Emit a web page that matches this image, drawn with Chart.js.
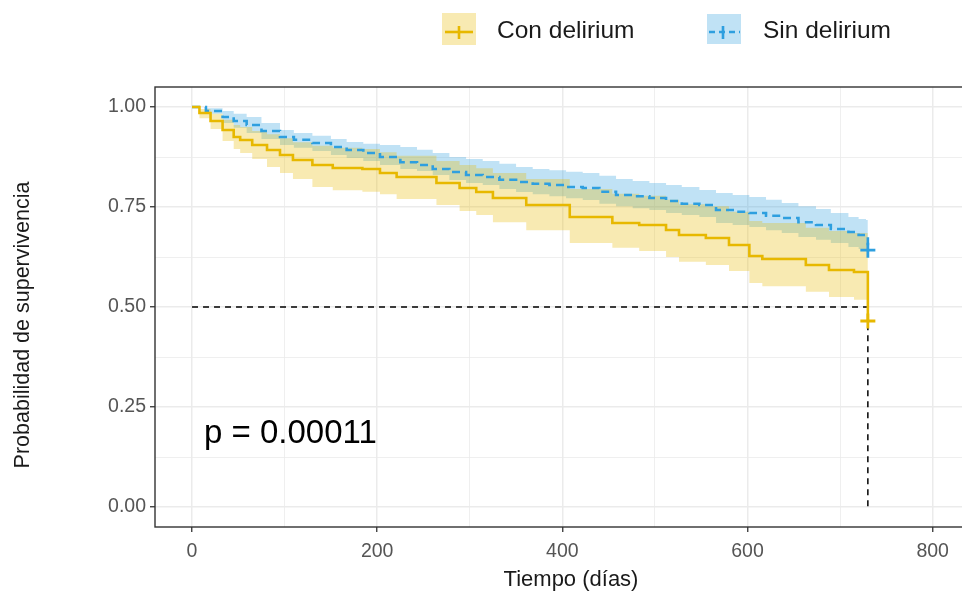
<!DOCTYPE html>
<html>
<head>
<meta charset="utf-8">
<script src="https://cdn.jsdelivr.net/npm/chart.js@4.4.1/dist/chart.umd.min.js"></script>
<style>
  html, body { margin: 0; padding: 0; background: #fff; overflow: hidden; }
  #wrap { width: 962px; height: 594px; overflow: hidden; }
</style>
</head>
<body>
<div id="wrap"><canvas id="km" width="980" height="594"></canvas></div>
<script>
// Con delirium (gold) - Kaplan-Meier steps
const conTime  = [0, 8, 20, 33, 45, 52, 65, 81, 95, 109, 130, 152, 184, 203, 221, 264, 289, 307, 325, 361, 408, 454, 483, 512, 526, 555, 580, 602, 616, 663, 688, 715, 730];
const conSurv  = [1, .985, .965, .9425, .925, .9175, .905, .8925, .88, .8675, .855, .8475, .845, .835, .825, .81, .7975, .7875, .7725, .755, .725, .71, .705, .6925, .68, .6725, .655, .6275, .62, .605, .5925, .5875, .465];
const conLower = [1, .972, .945, .915, .895, .885, .87, .85, .835, .82, .80, .792, .788, .782, .77, .755, .74, .73, .712, .692, .66, .648, .64, .625, .613, .605, .59, .56, .552, .538, .525, .518, .518];
const conUpper = [1, .995, .983, .968, .955, .95, .94, .932, .922, .912, .903, .898, .895, .887, .878, .865, .855, .847, .835, .82, .795, .783, .778, .768, .757, .752, .738, .715, .71, .698, .69, .685, .685];

// Sin delirium (blue)
const sinTime  = [0, 15, 33, 45, 59, 75, 95, 110, 130, 150, 167, 185, 203, 225, 243, 260, 278, 296, 314, 332, 350, 368, 386, 404, 422, 440, 458, 476, 494, 512, 529, 548, 566, 584, 602, 620, 637, 655, 674, 690, 709, 720, 728, 730];
const sinSurv  = [1, .99, .975, .965, .955, .94, .925, .918, .91, .9, .8925, .885, .875, .862, .855, .845, .8375, .83, .825, .818, .8125, .808, .805, .8, .7975, .788, .78, .777, .7725, .765, .758, .755, .7425, .738, .735, .728, .7225, .712, .705, .695, .6875, .68, .675, .642];
const sinLower = [1, .983, .96, .948, .935, .92, .905, .898, .89, .88, .8725, .865, .855, .845, .84, .83, .8175, .81, .805, .795, .7875, .782, .777, .772, .7675, .758, .752, .747, .7425, .735, .73, .725, .71, .705, .70, .692, .685, .675, .668, .66, .65, .645, .6425, .6425];
const sinUpper = [1, .997, .99, .983, .975, .96, .9425, .935, .928, .92, .9125, .908, .905, .9, .893, .885, .875, .87, .865, .858, .85, .845, .842, .838, .835, .828, .82, .815, .81, .805, .80, .7925, .785, .78, .775, .768, .76, .752, .745, .735, .725, .72, .7175, .7175];

// median survival guide
const medianX = [0, 730, 730];
const medianY = [0.5, 0.5, 0];

const xTicks = [0, 100, 200, 300, 400, 500, 600, 700, 800];
const yTicks = [0, 0.125, 0.25, 0.375, 0.5, 0.625, 0.75, 0.875, 1];

const seriesNames = ["Con delirium", "Sin delirium"];
const pText = "p = 0.00011";

const GOLD = "#E7B800";
const BLUE = "#2E9FDF";
const GOLD_BAND = "rgba(231,184,0,0.3)";
const BLUE_BAND = "rgba(46,159,223,0.3)";
const FONT = "'Liberation Sans', Arial, sans-serif";

function pts(xs, ys) {
  return xs.map((x, i) => ({ x: x, y: ys[i] }));
}

function isMajor(v, step) {
  const r = v / step;
  return Math.abs(r - Math.round(r)) < 1e-6;
}

function band(xs, ys, color) {
  return {
    data: pts(xs, ys), stepped: "before", borderWidth: 0, pointRadius: 0,
    backgroundColor: color, fill: false, order: 10
  };
}

function curve(xs, ys, color, dash) {
  return {
    data: pts(xs, ys), stepped: "before", borderColor: color, borderWidth: 2.6,
    borderDash: dash, fill: false, order: 1,
    pointStyle: "cross",
    pointRadius: (c) => (c.dataIndex === xs.length - 1 ? 7.5 : 0),
    pointBorderColor: color, pointBorderWidth: 2.8, pointBackgroundColor: color
  };
}

const gold = band(conTime, conUpper, GOLD_BAND); gold.fill = "+1";
const blue = band(sinTime, sinUpper, BLUE_BAND); blue.fill = "+1";

// panel border, legend, p value and axis titles
const decor = {
  id: "decor",
  afterDraw(chart) {
    const { ctx, chartArea: a } = chart;
    ctx.save();
    ctx.strokeStyle = "#333333";
    ctx.lineWidth = 1.4;
    ctx.strokeRect(a.left, a.top, a.right - a.left, a.bottom - a.top);

    // legend keys
    ctx.fillStyle = GOLD_BAND;
    ctx.fillRect(442, 13, 34, 32);
    ctx.strokeStyle = GOLD; ctx.lineWidth = 2.6;
    ctx.beginPath(); ctx.moveTo(445, 32); ctx.lineTo(473, 32); ctx.stroke();
    ctx.beginPath(); ctx.moveTo(459, 26); ctx.lineTo(459, 39); ctx.stroke();

    ctx.fillStyle = BLUE_BAND;
    ctx.fillRect(707, 14, 34, 30);
    ctx.strokeStyle = BLUE;
    ctx.setLineDash([6, 4]);
    ctx.beginPath(); ctx.moveTo(709, 32); ctx.lineTo(740, 32); ctx.stroke();
    ctx.setLineDash([]);
    ctx.beginPath(); ctx.moveTo(723, 26); ctx.lineTo(723, 39); ctx.stroke();

    ctx.fillStyle = "#1a1a1a";
    ctx.textBaseline = "middle";
    ctx.textAlign = "left";
    ctx.font = "24.5px " + FONT;
    ctx.fillText(seriesNames[0], 497, 31);
    ctx.fillText(seriesNames[1], 763, 31);

    ctx.fillStyle = "#000";
    ctx.font = "33px " + FONT;
    ctx.fillText(pText, 204, 434);

    ctx.fillStyle = "#1a1a1a";
    ctx.font = "22px " + FONT;
    ctx.textAlign = "center";
    ctx.fillText("Tiempo (días)", 571, 580);

    ctx.translate(23, 325);
    ctx.rotate(-Math.PI / 2);
    ctx.font = "21.5px " + FONT;
    ctx.fillText("Probabilidad de supervivencia", 0, 0);
    ctx.restore();
  }
};

new Chart(document.getElementById("km"), {
  type: "line",
  data: {
    datasets: [
      gold,
      band(conTime, conLower, GOLD_BAND),
      blue,
      band(sinTime, sinLower, BLUE_BAND),
      curve(conTime, conSurv, GOLD, []),
      curve(sinTime, sinSurv, BLUE, [8, 5]),
      {
        data: pts(medianX, medianY), borderColor: "#000", borderWidth: 1.5,
        borderDash: [6, 5], pointRadius: 0, fill: false, order: 2
      }
    ]
  },
  options: {
    responsive: false,
    animation: false,
    events: [],
    layout: { padding: { top: 87, right: 9, left: 0, bottom: 0 } },
    plugins: {
      legend: { display: false },
      tooltip: { enabled: false },
      filler: { drawTime: "beforeDatasetsDraw" }
    },
    scales: {
      x: {
        type: "linear", min: -40, max: 840,
        afterBuildTicks: (s) => { s.ticks = xTicks.map(v => ({ value: v })); },
        afterFit: (s) => { s.height = 67; },
        border: { display: false },
        grid: {
          color: "#ebebeb",
          lineWidth: (c) => (isMajor(c.tick.value, 200) ? 1.5 : 0.8),
          tickColor: (c) => (isMajor(c.tick.value, 200) ? "#333333" : "rgba(0,0,0,0)"),
          tickLength: 5, tickWidth: 1.3
        },
        ticks: {
          autoSkip: false, maxRotation: 0, padding: 8,
          color: "#555", font: { size: 19.5, family: FONT },
          callback: (v) => (isMajor(v, 200) ? String(v) : "")
        }
      },
      y: {
        type: "linear", min: -0.05, max: 1.05,
        afterBuildTicks: (s) => { s.ticks = yTicks.map(v => ({ value: v })); },
        afterFit: (s) => { s.width = 155; },
        border: { display: false },
        grid: {
          color: "#ebebeb",
          lineWidth: (c) => (isMajor(c.tick.value, 0.25) ? 1.5 : 0.8),
          tickColor: (c) => (isMajor(c.tick.value, 0.25) ? "#333333" : "rgba(0,0,0,0)"),
          tickLength: 5, tickWidth: 1.3
        },
        ticks: {
          autoSkip: false, padding: 4,
          color: "#555", font: { size: 19.5, family: FONT },
          callback: (v) => (isMajor(v, 0.25) ? v.toFixed(2) : "")
        }
      }
    }
  },
  plugins: [decor]
});
</script>
</body>
</html>
